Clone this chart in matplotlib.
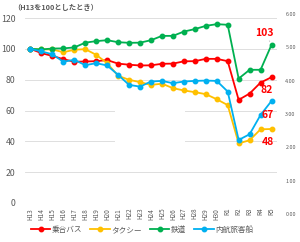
import matplotlib
matplotlib.use("Agg")
import matplotlib.pyplot as plt
from matplotlib.patches import Rectangle

plt.rcParams['font.family'] = ['Noto Sans CJK JP', 'DejaVu Sans']

years = ["H13", "H14", "H15", "H16", "H17", "H18", "H19", "H20", "H21", "H22", "H23",
         "H24", "H25", "H26", "H27", "H28", "H29", "H30", "R1", "R2", "R3", "R4", "R5"]
bus = [100, 97.2, 95.4, 93.3, 91.6, 91.8, 92.0, 92.7, 90.4, 89.7, 89.2,
       89.3, 90.3, 90.4, 91.9, 92.0, 93.5, 93.5, 92.0, 66.9, 71.0, 78.1, 81.6]
taxi = [100, 99.6, 99.6, 97.8, 99.4, 99.8, 96.1, 90.7, 82.5, 79.9, 78.4,
        76.6, 77.4, 74.5, 73.0, 71.9, 70.6, 67.3, 63.5, 38.7, 40.7, 47.8, 48.0]
rail = [100, 99.6, 100.2, 100.3, 100.9, 104.0, 105.0, 105.6, 104.3, 103.9, 104.0,
        105.6, 108.4, 108.4, 111.2, 112.8, 114.9, 116.0, 115.6, 80.7, 86.4, 86.4, 102.6]
ship = [100, 98.3, 96.5, 91.6, 92.9, 89.4, 90.7, 89.2, 83.1, 76.6, 75.5,
        78.8, 79.2, 77.7, 78.8, 79.2, 79.4, 79.2, 72.3, 40.9, 44.6, 57.1, 66.2]
series_names = ["乗合バス", "タクシー", "鉄道", "内航旅客船"]
colors = ["#FF0000", "#FFC000", "#00B050", "#00B0F0"]
end_labels = ["82", "48", "103", "67"]
label_offsets = [(-3.3, -9.2), (-2.6, -9.4), (-4.8, 8.6), (-2.6, -10.0)]
left_ticks = [0, 20, 40, 60, 80, 100, 120]
right_ticks = [0, 1, 2, 3, 4, 5, 6]

W, H = 300, 242
fig = plt.figure(figsize=(3.0, 2.42), dpi=100)
ax = fig.add_axes([25 / W, 1 - 203 / H, 252 / W, 185 / H])

x = list(range(len(years)))
data = [bus, taxi, rail, ship]
for vals, name, c in zip(data, series_names, colors):
    ax.plot(x, vals, color=c, lw=1.3, marker='o', ms=3.2, label=name, zorder=3)

# white patch hiding part of gridlines (as in reference)
ax.add_patch(Rectangle((7.7, 33), 6.4, 34, facecolor='white', edgecolor='none', zorder=1))

for vals, lab, off, c in zip(data, end_labels, label_offsets, colors):
    kw = {}
    if lab == "103":
        kw['arrowprops'] = dict(arrowstyle='-', color='#BFBFBF', lw=0.5, shrinkA=0, shrinkB=2.5)
    ax.annotate(lab, (x[-1], vals[-1]), xytext=off, textcoords='offset points',
                ha='center', va='center', color='#FF0000', fontsize=7.5,
                fontweight='bold', zorder=4, **kw)

ax.set_xlim(-0.5, len(years) - 0.5)
ax.set_ylim(0, 120)
ax.set_yticks(left_ticks)
ax.set_xticks(x)
ax.set_xticklabels(years, rotation=90, fontsize=4.6, color='#595959')
ax.tick_params(axis='y', labelsize=6.3, colors='#595959', length=0, pad=7)
ax.tick_params(axis='x', length=0, pad=3.5)
ax.grid(axis='y', color='#D9D9D9', lw=0.6, zorder=0)
ax.set_axisbelow(True)
for s in ax.spines.values():
    s.set_visible(False)

# right axis labels
ax2 = fig.add_axes([25 / W, 1 - 214 / H, 252 / W, 200 / H])
ax2.set_ylim(0, 6)
ax2.set_yticks(right_ticks)
ax2.set_yticklabels([f"{v:.2f}" for v in right_ticks])
ax2.yaxis.tick_right()
ax2.tick_params(axis='y', labelsize=3.9, colors='#595959', length=0, pad=6)
ax2.set_xticks([])
ax2.patch.set_visible(False)
for s in ax2.spines.values():
    s.set_visible(False)

fig.text(13 / W, 1 - 7 / H, "（H13を100としたとき）", fontsize=5.2, fontweight='bold',
         color='#595959', ha='left', va='center')

handles, labels = ax.get_legend_handles_labels()
fig.legend(handles, labels, loc='center', bbox_to_anchor=(142 / W, 1 - 230 / H), ncol=4,
           frameon=False, fontsize=5.5, handlelength=2.6, handletextpad=0.2,
           columnspacing=1.0, labelcolor='#595959')

fig.savefig("out.png", dpi=100)
